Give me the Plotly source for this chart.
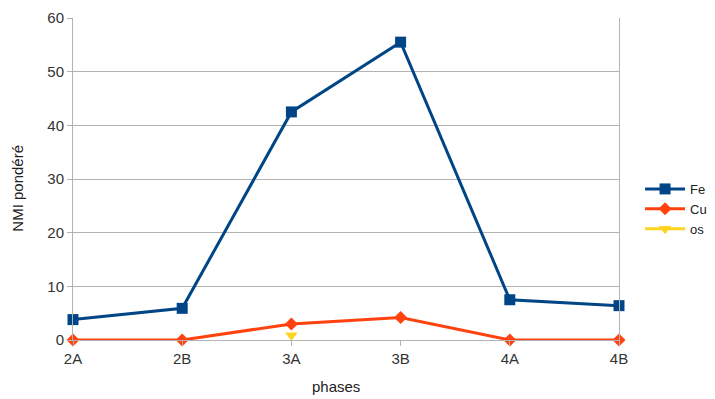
import plotly.graph_objects as go

phases = ["2A", "2B", "3A", "3B", "4A", "4B"]
fe = [3.8, 5.9, 42.5, 55.5, 7.5, 6.4]
cu = [0, 0, 3.0, 4.2, 0, 0]
os_vals = [None, None, 0.9, None, None, None]

fig = go.Figure()
fig.add_trace(go.Scatter(x=phases, y=fe, name="Fe", mode="lines+markers",
                         line=dict(color="#004586", width=3),
                         marker=dict(symbol="square", size=11, color="#004586"),
                         cliponaxis=False))
fig.add_trace(go.Scatter(x=phases, y=os_vals, name="os", mode="lines+markers",
                         line=dict(color="#ffd320", width=3),
                         marker=dict(symbol="triangle-down", size=11, color="#ffd320"),
                         cliponaxis=False, showlegend=False))
fig.add_trace(go.Scatter(x=phases, y=cu, name="Cu", mode="lines+markers",
                         line=dict(color="#ff420e", width=3),
                         marker=dict(symbol="diamond", size=10, color="#ff420e"),
                         cliponaxis=False))
fig.add_trace(go.Scatter(x=[None], y=[None], name="os", mode="lines+markers",
                         line=dict(color="#ffd320", width=3),
                         marker=dict(symbol="triangle-down", size=11, color="#ffd320")))

fig.update_layout(
    width=707, height=391,
    margin=dict(l=65, r=96, t=10, b=59, autoexpand=False),
    paper_bgcolor="white", plot_bgcolor="white",
    font=dict(family="Liberation Sans, Arial, sans-serif", size=15, color="#333333"),
    legend=dict(xref="container", yref="container", x=0.894, y=0.486,
                yanchor="middle", xanchor="left",
                font=dict(size=13, color="#222222"), tracegroupgap=0,
                itemwidth=40),
    xaxis=dict(type="category", range=[0, 5], showgrid=False, automargin=False,
               showline=True, linecolor="#b3b3b3", linewidth=1,
               ticks="outside", ticklen=5, tickcolor="#b3b3b3",
               tickfont=dict(size=15, color="#333333")),
    yaxis=dict(range=[0, 60], dtick=10, showgrid=True, gridcolor="#b3b3b3", automargin=False,
               showline=True, linecolor="#b3b3b3", mirror=True, zeroline=False,
               ticks="outside", ticklen=5, tickcolor="#b3b3b3",
               tickfont=dict(size=15, color="#333333")),
    annotations=[
        dict(text="phases", xref="paper", yref="paper", x=0.482, y=0,
             xanchor="center", yanchor="middle", yshift=-46, showarrow=False,
             font=dict(size=15, color="#222222")),
        dict(text="NMI pondéré", xref="paper", yref="paper", x=-0.1007, y=0.47,
             xanchor="center", yanchor="middle", textangle=-90, showarrow=False,
             font=dict(size=15, color="#222222")),
    ],
)

fig.write_html("out.html")
